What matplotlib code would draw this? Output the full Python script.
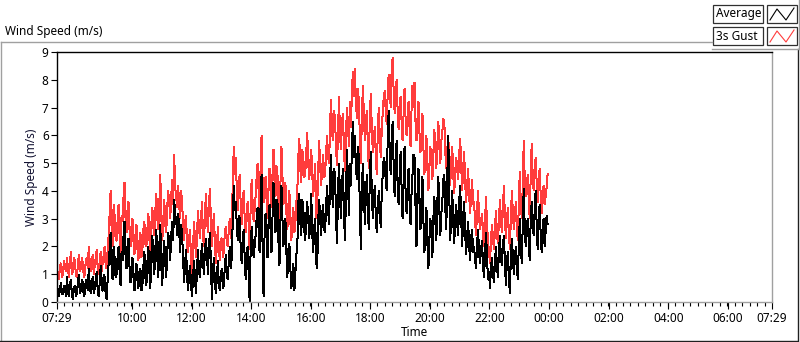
import matplotlib
matplotlib.use("Agg")
import matplotlib.pyplot as plt
from matplotlib.lines import Line2D
from matplotlib.patches import Rectangle
import numpy as np

plt.rcParams['font.family'] = ['Noto Sans', 'DejaVu Sans']

# ---------------- data ----------------
step_minutes = 2  # samples every 2 minutes from 07:29

gust = [
    1.2, 1.0, 0.8, 1.3, 1.4, 0.9, 1.0, 1.5, 1.3, 1.1, 1.6, 1.2, 0.9, 1.4, 1.8, 1.0, 1.1, 1.6, 1.5, 1.0, 0.9, 1.3, 1.7, 1.1, 1.2, 1.6, 1.4, 0.9, 1.0, 1.5,
    1.6, 1.2, 2.0, 1.4, 1.1, 1.5, 1.7, 1.0, 1.3, 1.6, 1.9, 1.2, 1.0, 1.5, 1.8, 1.1, 1.4, 1.7, 2.0, 1.3, 1.2, 1.9, 2.4, 3.2, 4.0, 2.6, 2.0, 3.5, 3.1, 2.3,
    2.2, 2.9, 3.5, 2.4, 1.8, 3.1, 2.9, 3.8, 4.3, 3.0, 2.5, 3.3, 3.6, 2.6, 2.0, 2.7, 3.0, 2.2, 1.7, 2.4, 2.8, 1.9, 1.5, 2.2, 2.5, 1.6, 1.9, 2.6, 2.9, 2.1,
    2.0, 2.6, 3.2, 2.3, 1.8, 2.8, 3.4, 2.7, 2.4, 3.3, 3.9, 3.0, 2.6, 3.5, 4.6, 3.1, 2.2, 2.9, 3.7, 2.8, 2.5, 3.4, 4.0, 3.6, 3.0, 3.8, 4.4, 3.5, 5.3, 4.1,
    3.8, 3.4, 4.2, 3.5, 3.0, 4.0, 3.6, 2.7, 2.2, 2.9, 3.1, 2.0, 1.8, 2.3, 2.6, 1.5, 0.9, 2.0, 2.9, 2.2, 1.6, 2.5, 3.3, 2.6, 2.3, 3.0, 3.6, 2.4, 2.0, 3.2,
    3.9, 3.0, 2.5, 3.5, 4.1, 2.9, 2.0, 2.6, 3.2, 2.1, 1.4, 2.0, 2.7, 1.9, 1.5, 2.2, 2.3, 1.6, 1.8, 2.5, 2.7, 2.1, 2.0, 2.6, 3.0, 2.3, 2.8, 4.3, 5.6, 4.6,
    5.2, 4.1, 3.3, 4.2, 4.6, 3.5, 2.8, 3.7, 4.0, 3.0, 2.5, 3.2, 3.6, 2.7, 1.9, 3.4, 4.4, 3.6, 2.9, 3.3, 3.8, 4.5, 5.0, 4.0, 3.3, 4.8, 6.0, 4.4, 3.6, 4.2,
    4.5, 3.7, 3.0, 4.1, 4.8, 4.0, 3.4, 4.6, 5.5, 4.4, 3.8, 4.9, 4.6, 3.6, 2.9, 4.2, 5.6, 4.5, 3.5, 3.9, 4.3, 3.2, 2.6, 3.5, 4.0, 2.9, 2.2, 3.0, 3.4, 2.5,
    2.8, 3.6, 4.0, 5.2, 5.9, 4.8, 4.3, 5.5, 5.2, 4.5, 4.6, 5.4, 6.1, 5.0, 4.4, 5.0, 5.5, 4.6, 3.8, 4.4, 5.0, 3.0, 3.4, 4.7, 5.8, 4.9, 4.2, 4.8, 5.3, 4.5,
    4.6, 5.4, 6.0, 5.2, 5.0, 6.4, 7.3, 6.1, 5.8, 6.9, 6.6, 5.5, 4.9, 6.2, 7.4, 6.0, 5.5, 6.5, 6.8, 5.4, 4.7, 6.0, 7.0, 6.4, 5.6, 7.2, 6.3, 7.6, 8.3, 7.4,
    8.4, 7.2, 6.6, 7.7, 7.2, 5.9, 5.0, 6.6, 7.8, 6.8, 5.8, 6.4, 6.9, 5.6, 4.8, 6.7, 7.5, 6.3, 5.4, 5.9, 6.3, 5.3, 4.6, 6.1, 7.0, 6.0, 5.2, 6.2, 6.8, 7.4,
    7.6, 6.9, 6.4, 7.5, 8.2, 7.8, 7.0, 8.4, 8.8, 7.6, 6.8, 7.4, 8.0, 6.9, 6.2, 7.1, 7.4, 6.5, 5.8, 6.8, 7.7, 6.6, 6.0, 6.7, 7.2, 6.3, 5.6, 6.9, 7.8, 7.0,
    7.9, 6.5, 5.8, 6.6, 7.2, 6.1, 5.4, 6.0, 6.8, 5.5, 4.6, 5.3, 6.0, 4.8, 4.0, 4.9, 5.6, 5.0, 4.4, 5.4, 6.2, 5.5, 4.8, 5.7, 6.5, 5.6, 5.0, 5.8, 6.1, 6.6,
    6.5, 5.4, 4.8, 5.5, 6.0, 5.0, 4.2, 5.1, 5.6, 4.6, 3.9, 4.7, 5.2, 4.8, 4.4, 5.3, 5.9, 4.9, 4.0, 4.8, 5.4, 4.3, 3.6, 4.2, 4.8, 3.9, 3.2, 3.8, 4.4, 3.5,
    3.6, 2.9, 2.4, 3.3, 4.0, 3.1, 2.6, 2.9, 3.2, 2.5, 2.0, 2.9, 3.8, 2.8, 2.2, 1.8, 1.4, 2.2, 2.8, 2.3, 1.9, 2.6, 3.3, 2.5, 2.1, 2.9, 3.7, 3.0, 2.5, 3.4,
    4.2, 3.1, 2.3, 2.9, 3.4, 2.5, 1.9, 3.0, 4.0, 3.3, 2.6, 3.0, 3.6, 2.8, 2.2, 3.4, 4.7, 3.6, 3.0, 4.2, 5.8, 4.4, 3.8, 4.1, 4.6, 3.7, 3.0, 4.5, 5.7, 4.6,
    4.0, 4.7, 5.2, 4.3, 3.6, 4.4, 4.8, 3.9, 3.2, 3.9, 4.2, 3.5, 3.8, 4.1, 4.6,
]

average = [
    0.6, 0.4, 0.2, 0.5, 0.7, 0.3, 0.3, 0.6, 0.5, 0.2, 0.9, 0.4, 0.2, 0.6, 0.8, 0.3, 0.1, 0.5, 0.6, 0.2, 0.3, 0.7, 1.0, 0.3, 0.4, 0.8, 0.7, 0.2, 0.3, 0.8,
    0.7, 0.4, 1.2, 0.6, 0.3, 0.7, 0.9, 0.3, 0.5, 0.8, 1.1, 0.4, 0.2, 0.7, 1.3, 0.5, 0.4, 1.0, 0.9, 0.3, 0.1, 0.8, 1.4, 1.9, 2.5, 1.2, 0.8, 2.0, 1.6, 0.9,
    1.0, 1.6, 2.0, 1.1, 0.6, 1.8, 1.5, 2.4, 2.9, 1.7, 1.2, 2.0, 2.3, 1.3, 0.7, 1.2, 1.6, 0.9, 0.4, 1.0, 1.4, 0.8, 0.5, 1.1, 1.2, 0.4, 0.6, 1.3, 1.8, 0.9,
    0.6, 1.4, 2.0, 1.1, 0.5, 1.7, 2.4, 1.5, 1.0, 1.9, 2.6, 1.6, 0.9, 2.0, 2.8, 1.3, 0.6, 1.6, 2.2, 1.4, 0.9, 1.8, 2.5, 2.1, 1.5, 2.4, 2.9, 2.2, 3.7, 3.1,
    3.0, 2.4, 3.2, 2.6, 1.8, 2.8, 2.4, 1.5, 0.7, 1.4, 1.9, 0.9, 0.4, 1.0, 1.3, 0.6, 0.2, 0.9, 1.5, 0.8, 0.3, 1.2, 1.9, 1.1, 0.9, 1.6, 2.1, 1.4, 1.0, 1.9,
    2.3, 1.7, 1.0, 2.0, 2.5, 1.4, 0.1, 1.1, 1.6, 0.7, 0.3, 0.9, 1.5, 0.6, 0.4, 1.0, 1.2, 0.5, 0.6, 1.3, 1.7, 1.0, 0.8, 1.5, 2.0, 1.2, 1.6, 3.0, 4.2, 3.3,
    3.6, 2.8, 2.2, 3.1, 3.0, 1.9, 1.4, 2.3, 2.6, 1.6, 0.8, 1.8, 2.0, 1.0, 0.0, 1.9, 2.7, 2.2, 1.6, 2.0, 2.4, 3.0, 3.4, 2.6, 1.8, 3.5, 4.6, 2.0, 0.2, 2.4,
    3.2, 2.3, 1.6, 2.8, 3.5, 2.6, 1.8, 3.0, 4.3, 3.1, 2.5, 3.7, 3.6, 2.2, 1.3, 2.9, 4.2, 3.0, 2.0, 2.6, 3.0, 1.8, 0.9, 1.9, 2.1, 1.2, 0.5, 1.0, 1.4, 0.4,
    1.0, 1.7, 2.0, 3.6, 3.9, 2.9, 2.4, 3.7, 3.4, 2.6, 2.2, 3.1, 3.6, 3.0, 2.3, 2.8, 3.9, 2.5, 1.8, 2.7, 3.0, 1.4, 1.2, 2.9, 3.7, 3.0, 2.4, 3.2, 3.5, 2.6,
    2.5, 3.5, 4.2, 3.3, 2.8, 4.5, 5.3, 3.9, 3.4, 4.8, 4.6, 3.0, 2.1, 4.0, 5.0, 3.8, 3.0, 4.3, 4.8, 3.1, 2.2, 3.9, 5.5, 4.4, 3.1, 5.0, 4.2, 5.6, 6.5, 5.2,
    6.0, 4.9, 4.4, 5.6, 5.2, 3.2, 1.9, 4.1, 5.0, 4.0, 2.8, 3.8, 4.6, 3.3, 2.6, 4.5, 5.4, 4.0, 3.0, 3.6, 4.2, 3.1, 2.5, 3.4, 4.0, 3.2, 2.7, 3.9, 4.6, 5.2,
    5.0, 4.4, 4.0, 5.9, 6.9, 5.5, 4.6, 5.8, 6.5, 4.9, 3.8, 5.1, 5.8, 4.2, 3.5, 4.6, 5.4, 4.1, 3.0, 4.3, 5.6, 4.0, 3.2, 4.1, 4.8, 3.6, 2.8, 3.9, 4.6, 5.3,
    5.2, 3.5, 2.0, 3.9, 4.8, 3.6, 2.6, 3.7, 4.5, 2.9, 1.8, 2.7, 3.4, 2.1, 1.2, 2.3, 3.0, 2.4, 1.6, 3.0, 3.8, 2.9, 2.2, 3.6, 4.5, 3.3, 2.4, 3.2, 3.6, 4.4,
    4.6, 3.4, 2.6, 4.5, 6.0, 3.9, 2.2, 3.3, 4.0, 2.9, 2.1, 3.0, 3.5, 2.8, 2.4, 3.6, 4.2, 3.0, 2.0, 3.1, 3.6, 2.5, 1.7, 2.4, 2.9, 2.0, 1.5, 2.3, 2.6, 1.8,
    2.0, 1.5, 1.2, 2.1, 2.6, 1.8, 1.4, 1.9, 2.2, 1.3, 0.9, 1.7, 2.5, 1.6, 0.8, 1.1, 0.5, 1.2, 1.6, 1.0, 0.7, 1.4, 2.0, 1.3, 0.9, 1.8, 2.4, 1.6, 1.3, 2.0,
    2.4, 1.5, 0.6, 1.4, 1.8, 1.0, 0.3, 1.6, 2.3, 1.7, 1.0, 1.5, 2.0, 1.3, 0.8, 2.0, 3.0, 2.1, 1.4, 2.8, 4.1, 2.7, 2.0, 2.6, 3.0, 2.2, 1.5, 2.9, 3.6, 2.8,
    2.4, 3.3, 4.0, 2.8, 1.9, 3.0, 3.5, 2.5, 1.8, 2.7, 3.0, 2.0, 2.5, 3.1, 2.8,
]

tick_labels = ["07:29", "10:00", "12:00", "14:00", "16:00", "18:00", "20:00",
               "22:00", "00:00", "02:00", "04:00", "06:00", "07:29"]
y_ticks = [0, 1, 2, 3, 4, 5, 6, 7, 8, 9]
series_names = ["Average", "3s Gust"]

# ---------------- figure ----------------
W, H = 800, 342
fig = plt.figure(figsize=(W / 100, H / 100), dpi=100)
fig.patch.set_facecolor("white")

def fx(px):
    return px / W

def fy(py):
    return 1 - py / H

n = min(len(gust), len(average))
t = np.arange(n) * step_minutes / 60.0  # hours since 07:29

def label_to_hours(lbl, idx):
    if idx == len(tick_labels) - 1:
        return 24.0
    h, m = map(int, lbl.split(":"))
    mins = h * 60 + m - (7 * 60 + 29)
    if mins < 0:
        mins += 24 * 60
    return mins / 60.0

major_pos = [label_to_hours(l, i) for i, l in enumerate(tick_labels)]

ax = fig.add_axes([fx(57), fy(302), fx(772) - fx(57), fy(52) - fy(302)])
ax.plot(t, gust[:n], color="#ff3c3c", lw=0.72, solid_joinstyle="miter",
        antialiased=False)
ax.plot(t, average[:n], color="black", lw=0.72, solid_joinstyle="miter",
        antialiased=False)
ax.set_xlim(0, 24)
ax.set_ylim(0, 9)

ax.set_xticks(major_pos)
ax.set_xticklabels(tick_labels)
ax.set_xticks(np.arange(0, 24.01, 0.25), minor=True)
ax.set_yticks(y_ticks)
ax.set_yticklabels([str(v) for v in y_ticks])
ax.tick_params(axis="x", which="major", length=5, width=0.8, direction="out",
               labelsize=8.5, pad=2, color="black")
ax.tick_params(axis="x", which="minor", length=3, width=0.8, direction="out",
               color="black")
ax.tick_params(axis="y", which="major", length=4, width=0.8, direction="out",
               labelsize=8.5, pad=2, color="black")
for s in ["left", "top"]:
    ax.spines[s].set_color("black")
    ax.spines[s].set_linewidth(1.0)
for s in ["right", "bottom"]:
    ax.spines[s].set_color("#a0a0a0")
    ax.spines[s].set_linewidth(1.0)
ax.set_xlabel("Time", fontsize=8.5, labelpad=1)
ax.set_ylabel("Wind Speed (m/s)", fontsize=8.5, labelpad=3, color="#101030")

# ---------------- chart frame ----------------
def fline(x0, y0, x1, y1, color, lw=1.0):
    fig.add_artist(Line2D([fx(x0), fx(x1)], [fy(y0), fy(y1)], color=color,
                          lw=lw, transform=fig.transFigure))

fline(0.5, 42, 712, 42, "#a0a0a0")
fline(0.5, 42, 0.5, 340, "#a0a0a0")
fline(0, 340.5, 797, 340.5, "#202020")
fline(797.5, 49, 797.5, 341, "#202020")
fline(712, 49, 799, 49, "#a0a0a0")
fline(799.2, 0, 799.2, 49, "#a0a0a0")

fig.text(fx(5), fy(32), "Wind Speed (m/s)", fontsize=8.5, ha="left",
         va="center")

# ---------------- legend ----------------
legend_colors = ["black", "#ff3c3c"]
row_tops = [5, 27]
for name, col, top in zip(series_names, legend_colors, row_tops):
    fig.add_artist(Rectangle((fx(713), fy(top + 18)), fx(763) - fx(713),
                             fy(top) - fy(top + 18), transform=fig.transFigure,
                             facecolor="white", edgecolor="#303030", lw=0.9))
    fig.text(fx(715.5), fy(top + 9), name, fontsize=8.5, ha="left",
             va="center")
    fig.add_artist(Rectangle((fx(767), fy(top + 18)), fx(797) - fx(767),
                             fy(top) - fy(top + 18), transform=fig.transFigure,
                             facecolor="white", edgecolor="#303030", lw=0.9))
    zx = [770, 777, 786, 794]
    zy = [top + 15, top + 4, top + 15, top + 3]
    fig.add_artist(Line2D([fx(v) for v in zx], [fy(v) for v in zy],
                          color=col, lw=0.8, transform=fig.transFigure))

fig.savefig("out.png", dpi=100, facecolor="white")
